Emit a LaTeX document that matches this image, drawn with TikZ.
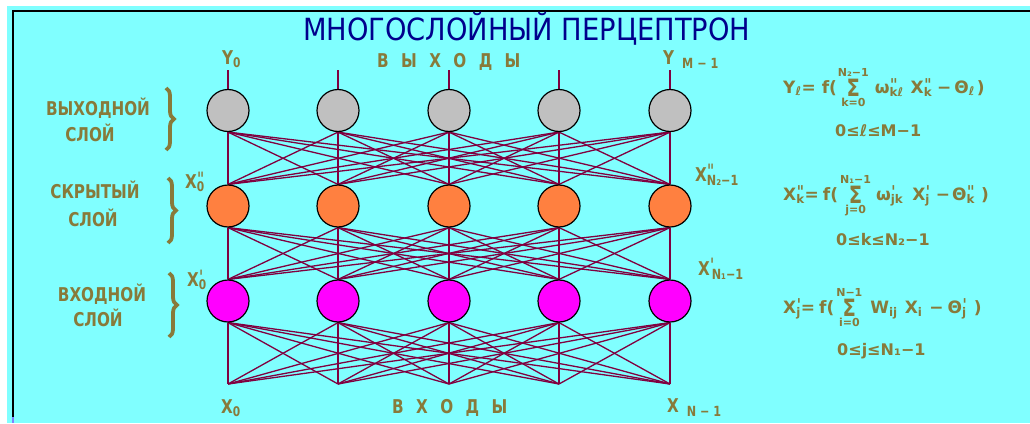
\documentclass[tikz,border=0pt]{standalone}
\usepackage{fontspec}
\setmainfont{DejaVu Sans}
\usetikzlibrary{decorations.pathreplacing}
\pgfdeclarelayer{bg}
\pgfdeclarelayer{wires}
\pgfsetlayers{bg,wires,main}

\definecolor{panel}{RGB}{128,255,255}
\definecolor{labelcol}{RGB}{136,122,58}
\definecolor{wirecol}{RGB}{128,0,64}
\definecolor{titlecol}{RGB}{0,0,140}
\definecolor{outgray}{RGB}{192,192,192}
\definecolor{hidorange}{RGB}{255,128,64}
\definecolor{inmag}{RGB}{255,0,255}
\definecolor{edgeblue}{RGB}{128,128,255}

% condensed lettering
\newcommand\narrow[1]{\scalebox{0.8}[1]{#1}}
% prime marks drawn as upright ticks
\newcommand\pone{ˈ}
\newcommand\ptwo{ˈ\kern-0.12em ˈ}
% prime mark stacked over a subscript
\newcommand\primesub[2]{\makebox[0pt][l]{\raisebox{0.1em}{#1}}\textsubscript{#2}}
% larger lowered index
\newcommand\lowidx[1]{\raisebox{-4pt}{\fontsize{14}{14}\selectfont #1}}
\newcommand\limfont{\fontsize{11}{11}\selectfont}
% summation sign with limits below and above
\newcommand\sumlim[2]{\ensuremath{\mathop{\hbox{\raisebox{-3pt}{\scalebox{1.15}[1.4]{Σ}}}}\limits_{\hbox{\limfont #1}}^{\hbox{\limfont #2}}}}

\tikzset{
  neuron/.style={circle, draw=black, line width=1.2pt, minimum size=42pt, inner sep=0pt},
  wire/.style={draw=wirecol, line width=1.3pt},
  lab/.style={text=labelcol, inner sep=0pt, anchor=base west, font=\bfseries\fontsize{19}{19}\selectfont},
  layername/.style={text=labelcol, inner sep=0pt, anchor=base, font=\bfseries\fontsize{19}{19}\selectfont},
  formula/.style={text=labelcol, inner sep=0pt, anchor=base west, font=\bfseries\fontsize{17}{17}\selectfont},
  idxrange/.style={text=labelcol, inner sep=0pt, anchor=base west, font=\bfseries\fontsize{16}{16}\selectfont},
  layerbrace/.style={draw=labelcol, line width=3.8pt, decorate, decoration={brace, amplitude=8pt, aspect=0.5}},
}

\begin{document}
\begin{tikzpicture}[x=1pt,y=-1pt]
\useasboundingbox (0,0) rectangle (1030,423);

% panel and frame
\begin{pgfonlayer}{bg}
  \fill[white] (0,0) rectangle (1030,423);
  \fill[panel] (7,6) rectangle (1030,423);
  \draw[black, line width=2.5pt] (13,417) -- (13,11) -- (1030,11);
  \draw[edgeblue, line width=2.5pt] (13,417) -- (13,423);
\end{pgfonlayer}

% title
\node[anchor=base west, inner sep=0pt, text=titlecol] (title) at (303,40)
  {\scalebox{1}[1.12]{\resizebox{447pt}{!}{\fontsize{27}{27}\selectfont МНОГОСЛОЙНЫЙ ПЕРЦЕПТРОН}}};

% neurons: output, hidden and input layers
\foreach \n/\x in {0/228,1/338,2/449,3/559,4/670}{
  \node[neuron, fill=outgray] (o\n) at (\x,110.5) {};
  \node[neuron, fill=hidorange] (h\n) at (\x,206) {};
  \node[neuron, fill=inmag] (m\n) at (\x,301) {};
  \coordinate (t\n) at (\x,70);
  \coordinate (b\n) at (\x,384);
}

% full connections between successive layers
\begin{pgfonlayer}{wires}
  \foreach \i in {0,...,4}{
    \draw[wire] (t\i) -- (o\i.north);
    \foreach \j in {0,...,4}{
      \draw[wire] (o\i.south) -- (h\j.north);
      \draw[wire] (h\i.south) -- (m\j.north);
      \draw[wire] (m\i.south) -- (b\j);
    }
  }
\end{pgfonlayer}

% layer names with braces
\node[layername] (outA) at (98,115) {\narrow{ВЫХОДНОЙ}};
\node[layername] (outB) at (90,141.5) {\narrow{СЛОЙ}};
\node[layername] (hidA) at (95,198) {\narrow{СКРЫТЫЙ}};
\node[layername] (hidB) at (93,226.5) {\narrow{СЛОЙ}};
\node[layername] (inA) at (102,301.5) {\narrow{ВХОДНОЙ}};
\node[layername] (inB) at (98,326.5) {\narrow{СЛОЙ}};
\draw[layerbrace] (166,88) -- (166,150);
\draw[layerbrace] (168,178) -- (168,243);
\draw[layerbrace] (169,273) -- (169,337);

% outputs and inputs
\node[lab] (y0) at (222,64) {\narrow{Y\textsubscript{0}}};
\node[lab] (outs) at (377,67) {\narrow{В\hspace{15.5pt}Ы\hspace{15.5pt}Х\hspace{15.5pt}О\hspace{15.5pt}Д\hspace{15.5pt}Ы}};
\node[lab] (ym) at (663,64) {\narrow{Y\hspace{10pt}\lowidx{M − 1}}};
\node[lab] (x0) at (221,413) {\narrow{X\textsubscript{0}}};
\node[lab] (ins) at (392,413) {\narrow{В\hspace{15.5pt}Х\hspace{15.5pt}О\hspace{15.5pt}Д\hspace{15.5pt}Ы}};
\node[lab] (xn) at (667,412) {\narrow{X\hspace{10pt}\lowidx{N − 1}}};

% neuron labels
\node[lab] (h0lab) at (185,188) {\narrow{X\primesub{\ptwo}{0}}};
\node[lab] (m0lab) at (187,286) {\narrow{X\primesub{\pone}{0}}};
\node[lab] (hnlab) at (695,181) {\narrow{X\makebox[0pt][l]{\raisebox{0.15em}{\ptwo}}\lowidx{N₂−1}}};
\node[lab] (mnlab) at (698,275) {\narrow{X\makebox[0pt][l]{\raisebox{0.15em}{\pone}}\lowidx{\,N₁−1}}};

% layer equations
\node[formula] (f1) at (783,93) {Y\textsubscript{ℓ}= f(\hspace{1pt}\sumlim{k=0}{N₂−1}\hspace{6pt}ω\primesub{\ptwo}{kℓ}\hspace{7pt}X\primesub{\ptwo}{k}\hspace{5pt}−\hspace{3pt}Θ\textsubscript{ℓ}\hspace{2pt})};
\node[idxrange] (r1) at (835,136) {0≤ℓ≤M−1};
\node[formula] (f2) at (783,200) {X\primesub{\ptwo}{k}=\hspace{4pt}f(\hspace{2pt}\sumlim{j=0}{N₁−1}\hspace{5pt}ω\primesub{\pone}{jk}\hspace{9pt}X\primesub{\pone}{j}\hspace{6pt}−\hspace{2pt}Θ\primesub{\ptwo}{k}\hspace{6pt})};
\node[idxrange] (r2) at (836,245) {0≤k≤N₂−1};
\node[formula] (f3) at (783,313) {X\primesub{\pone}{j}=\hspace{4pt}f(\hspace{2pt}\sumlim{i=0}{N−1}\hspace{8pt}W\textsubscript{ij}\hspace{7pt}X\textsubscript{i}\hspace{7pt}−\hspace{4pt}Θ\primesub{\pone}{j}\hspace{7pt})};
\node[idxrange] (r3) at (837,355) {0≤j≤N₁−1};
\end{tikzpicture}
\end{document}
